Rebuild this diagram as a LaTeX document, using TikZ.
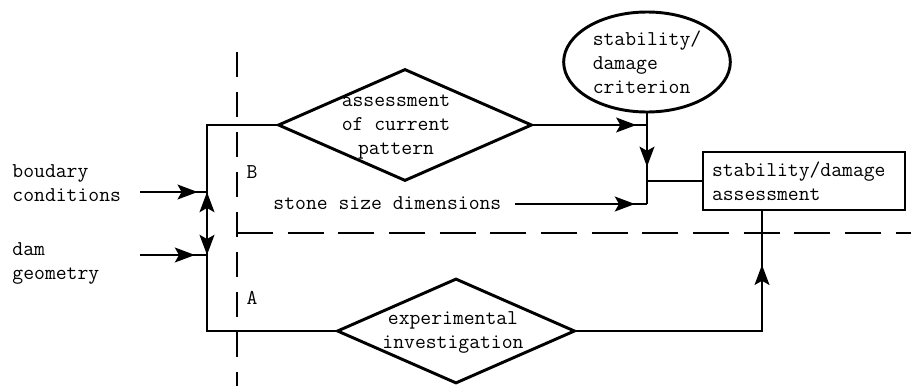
\documentclass[tikz,border=0pt]{standalone}
\usepackage{fontspec}
\usetikzlibrary{positioning,arrows.meta,shapes.geometric,decorations.markings}

\begin{document}
\begin{tikzpicture}[x=0.75pt, y=-0.75pt, line width=2.2pt, >={Stealth[length=15pt, width=11pt, inset=3pt]},
        tt/.style={font=\ttfamily\fontsize{15.8}{18}\selectfont, inner sep=0pt, align=left},
        decision/.style={draw, diamond, inner sep=0pt},
        tipat/.style={postaction={decorate}, decoration={markings, mark=at position #1 with {\arrow{>}}}}]
        \useasboundingbox (0,0) rectangle (911,386);

        \node[decision, minimum width=190.5pt, minimum height=84pt] (CUR) at (405,125) {};
        \node[tt, align=center] (CURt) at (396,127) {assessment\\of current\\pattern};
        \node[decision, minimum width=178.5pt, minimum height=78.75pt] (EXP) at (456,331) {};
        \node[tt, align=center] (EXPt) at (453,332) {experimental\\investigation};
        \node[tt, draw, ellipse, minimum width=125pt, minimum height=75pt] (CRIT) at (647,62) {stability/\\damage\\criterion};
        \node[tt, draw, minimum width=151.5pt, minimum height=43.5pt, text width=138pt, inner xsep=6.75pt] (SDA) at (804,181) {stability/damage\\assessment};
        \node[tt, anchor=west] (SSD) at (272,203) {stone size dimensions};
        \node[tt, anchor=west] (BC) at (11,183) {boudary\\conditions};
        \node[tt, anchor=west] (DG) at (11,263) {dam\\geometry};
        \node[tt] (LB) at (252,172) {B};
        \node[tt] (LA) at (252,298) {A};

        \coordinate (BCa) at (140,192);
        \coordinate (DGa) at (140,255);
        \coordinate (J1) at (207,192);
        \coordinate (J2) at (207,255);
        \coordinate (K1) at (647,125);
        \coordinate (K2) at (647,181);
        \coordinate (K3) at (647,204);
        \coordinate (K4) at (762,0);
        \coordinate (SSa) at (515,204);

        \draw[dash pattern=on 19pt off 11pt] (237,52) -- (237,386);
        \draw[dash pattern=on 27pt off 11pt] (237,233) -- (911,233);

        \draw (CUR.west) -| (J1) -- (J2) |- (EXP.west);
        \draw[<->] (J1) -- (J2);
        \draw[tipat=-7pt] (BCa) -- (J1);
        \draw[tipat=-9pt] (DGa) -- (J2);
        \draw[tipat=-8pt] (CUR.east) -- (K1);
        \draw[tipat=40pt] (CRIT) -- (K3);
        \draw[tipat=-9pt] (SSa) -- (K3);
        \draw (K2) -- (SDA.west);
        \draw[tipat=-40pt] (EXP.east) -| (K4 |- SDA.south);
    \end{tikzpicture}
\end{document}
